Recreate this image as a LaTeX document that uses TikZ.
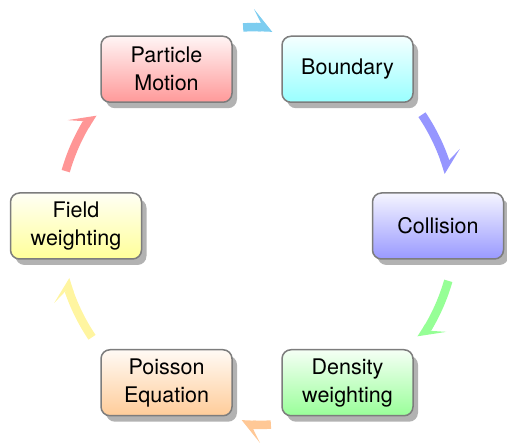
\documentclass[tikz,border=0pt]{standalone}
\usepackage{fontspec}
\setmainfont{TeX Gyre Heros}
\usetikzlibrary{shadows}
\definecolor{bordergray}{RGB}{125,125,125}
\definecolor{arrcyan}{RGB}{125,205,240}
\definecolor{arrblue}{RGB}{150,150,255}
\definecolor{arrgreen}{RGB}{150,255,150}
\definecolor{arrorange}{RGB}{255,200,150}
\definecolor{arryellow}{RGB}{255,245,160}
\definecolor{arrred}{RGB}{255,150,150}
\begin{document}
\begin{tikzpicture}[x=1pt,y=1pt,
  box/.style={draw=bordergray, line width=1.5pt, rounded corners=9pt,
    minimum width=131pt, minimum height=66pt, align=center,
    font=\fontsize{21.5}{28}\selectfont,
    top color=#1!4, bottom color=#1!40,
    drop shadow={shadow xshift=5pt, shadow yshift=-6pt, fill=gray!60, opacity=1}},
  shaft/.style={line width=8.5pt, draw=#1},
  head/.style={fill=#1}]
\useasboundingbox (0,0) rectangle (507,446);
\coordinate (c) at (257,220);
\node[box=red]    (pm) at ([shift={(c)}]120:181) {Particle\\Motion};
\node[box=cyan]   (bd) at ([shift={(c)}]60:181)  {Boundary};
\node[box=blue]   (co) at ([shift={(c)}]0:181)   {Collision};
\node[box=green]  (dw) at ([shift={(c)}]-60:181) {Density\\weighting};
\node[box=orange] (pe) at ([shift={(c)}]-120:181){Poisson\\Equation};
\node[box=yellow] (fw) at ([shift={(c)}]180:181) {Field\\weighting};
\def\R{199}
\foreach \a/\b/\col in {94/85.5/arrcyan, 34/15.5/arrblue, -16/-34.5/arrgreen,
                        -86/-94.5/arrorange, -146/-164.5/arryellow, 164/145.5/arrred}{
  \pgfmathsetmacro{\hb}{\b+3.4}
  \pgfmathsetmacro{\hbb}{\b+5.3}
  \pgfmathsetmacro{\hbi}{\b+4.2}
  \draw[shaft=\col] ([shift={(c)}]\a:\R) arc[start angle=\a, end angle=\hb, radius=\R];
  \fill[head=\col] ([shift={(c)}]\b:\R-4.25) -- ([shift={(c)}]\hbb:\R+18)
     -- ([shift={(c)}]\hb:\R+4) -- ([shift={(c)}]\hbi:\R-4.25) -- cycle;
}
\end{tikzpicture}
\end{document}
